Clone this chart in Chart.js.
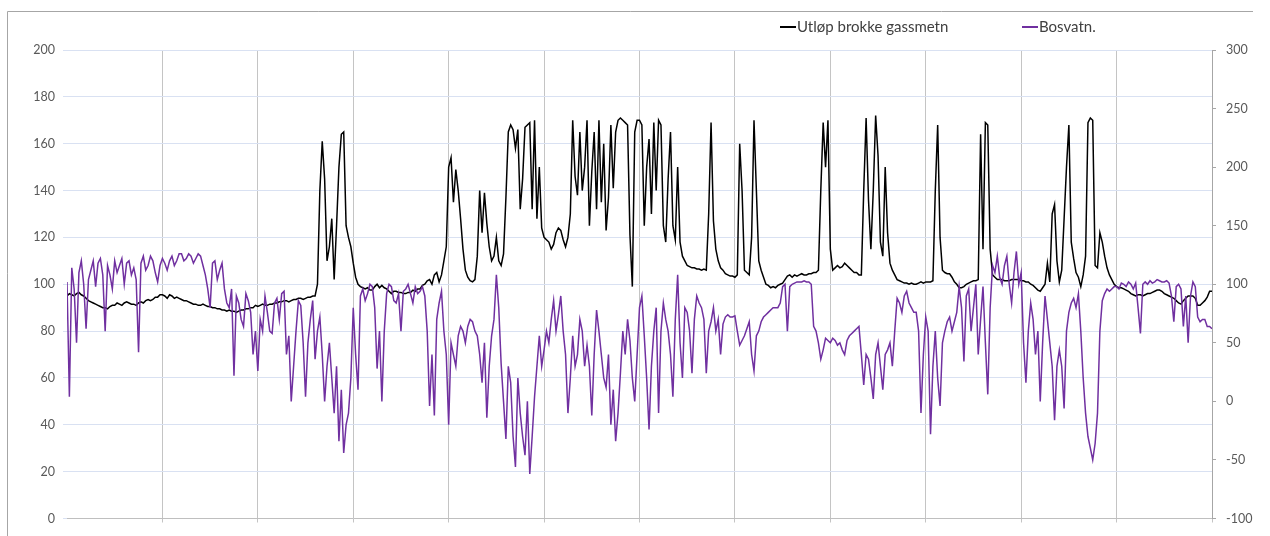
<!DOCTYPE html>
<html>
<head>
<meta charset="utf-8">
<script src="https://cdn.jsdelivr.net/npm/chart.js@4"></script>
<style>
  body { margin: 0; background: #fff; }
</style>
</head>
<body>
<canvas id="chart" width="1270" height="536"></canvas>
<script>
// series names (legend)
const seriesNames = ['Utløp brokke gassmetn', 'Bosvatn.'];

// left axis 0..200, right axis -100..300
const leftTicks = [0, 20, 40, 60, 80, 100, 120, 140, 160, 180, 200];
const rightTicks = [-100, -50, 0, 50, 100, 150, 200, 250, 300];

// samples between two vertical grid lines
const perGrid = 40;

// black series, left axis (481 samples, one row per grid interval)
const utlop = [
  95, 96, 95.5, 95, 96, 96.5, 95.5, 95, 94, 93, 92.5, 92, 91.5, 91, 90.5, 90, 90, 89.5, 90.5, 91, 91, 92, 91.5, 91, 92, 92.5, 92, 91.5, 91.5, 91, 92, 92.5, 92, 93, 93.5, 93, 93.5, 94.5, 94.5, 95.5, 95.5,
  95, 94, 95.5, 95, 94, 94.5, 94, 93.5, 93, 93, 92.5, 92, 91.5, 91.5, 91, 91, 91.5, 91, 90.5, 90.5, 90, 90, 89.5, 89.5, 89, 89, 88.5, 89, 88.5, 88.5, 88, 88.5, 89, 89, 89.5, 89.5, 90, 90, 91, 90.5,
  91, 91.5, 91, 91, 91.5, 91.5, 92, 92, 92.5, 92.5, 93, 93, 92.5, 93, 93.5, 93.5, 94, 94, 93.5, 94, 94.5, 94.5, 95, 95, 100, 140, 161, 145, 110, 116, 128, 102, 125, 150, 164, 165, 125, 120, 116, 109,
  103, 100, 99, 98.5, 98, 98.5, 97.5, 97.5, 99, 100, 98.5, 99.5, 98.5, 98, 97, 96, 97, 97, 96.5, 96.5, 96, 96, 96.5, 96.5, 97.5, 97, 98, 98, 99.5, 100, 101.5, 102, 100, 104, 105, 101, 104, 110, 116, 150,
  154, 135, 149, 140, 128, 115, 106, 103, 101.5, 101, 102, 112, 140, 122, 139, 126, 116, 110, 112, 120, 110, 108, 113, 137, 165, 168, 166, 158, 166, 132, 145, 167, 168, 169, 132, 170, 128, 150, 124, 120,
  119, 118, 115, 117, 122, 124, 123, 119, 116, 120, 130, 170, 146, 138, 165, 140, 150, 170, 125, 148, 165, 132, 170, 135, 160, 123, 137, 168, 141, 165, 170, 171, 170, 169, 168, 121, 99, 165, 170, 170,
  168, 125, 150, 162, 130, 169, 140, 170, 168, 125, 118, 145, 165, 125, 119, 150, 118, 112, 110, 108, 107.5, 107, 107, 106.5, 106.5, 106, 106.5, 106, 130, 169, 127, 115, 110, 107, 106, 104.5, 104, 103.5, 103.5, 103,
  104, 160, 140, 106, 105, 104, 120, 170, 140, 110, 106, 103, 100, 99.5, 98.5, 99, 98.5, 99.5, 100, 100.5, 102, 103.5, 104, 103, 104, 103.5, 104, 104.5, 104, 104, 104.5, 104.5, 105, 105, 106, 140, 169, 150, 170, 115,
  106, 107, 108, 107, 107.5, 109, 108, 107, 106, 105, 105, 104, 104, 140, 171, 136, 115, 140, 172, 155, 118, 112, 150, 122, 109, 106, 104, 102, 101.5, 101, 100.5, 100.5, 100, 100.5, 100, 100, 100.5, 101, 100.5, 101,
  101, 101, 101.5, 140, 168, 120, 106, 105, 104.5, 104.5, 103, 101, 100, 98.5, 98.5, 99, 100, 100.5, 101, 101.5, 101.5, 102, 164, 115, 169, 168, 115, 104, 103, 102, 102, 102, 101.5, 101.5, 101.5, 102, 102, 102, 102, 101.5,
  101.5, 101, 101, 100, 99.5, 98.5, 97.5, 97, 98.5, 100, 109, 101, 130, 134, 110, 101, 106, 128, 150, 168, 118, 111, 105, 103, 99, 104, 112, 169, 171, 170, 108, 107, 122, 118, 112, 107, 104, 102, 100, 99,
  98.5, 98.5, 98, 97.5, 97, 96, 95.5, 95, 95.5, 95.5, 95, 95.5, 96, 96, 96.5, 97, 97.5, 97.5, 97, 96, 95.5, 95, 94.5, 94, 93, 92, 91.5, 93, 94, 95, 95, 95, 94, 91, 91, 92, 93, 94.5, 97, 97
];

// purple series, right axis
const bosvatn = [
  102, 4, 114, 96, 50, 110, 120, 100, 62, 104, 112, 120, 98, 118, 122, 108, 60, 116, 108, 96, 120, 110, 116, 122, 100, 118, 120, 108, 114, 104, 42, 118, 124, 112, 116, 124, 120, 110, 102, 116, 122,
  118, 112, 120, 124, 116, 120, 126, 126, 120, 122, 126, 124, 118, 122, 126, 124, 116, 108, 96, 80, 118, 120, 104, 112, 118, 96, 84, 80, 96, 22, 90, 84, 70, 64, 92, 86, 76, 40, 60, 26,
  70, 60, 90, 76, 60, 58, 84, 88, 70, 92, 94, 40, 56, 0, 30, 60, 86, 82, 50, 4, 50, 70, 86, 36, 60, 72, 40, 0, 30, 50, 20, -10, 30, -34, 10, -44, -20, -10, 20, 80,
  40, 10, 90, 96, 86, 92, 100, 98, 80, 28, 60, 0, 60, 92, 100, 98, 86, 84, 92, 60, 94, 96, 100, 92, 84, 98, 92, 94, 98, 90, 60, -4, 40, -12, 70, 84, 94, 60, 40, -20,
  50, 40, 30, 56, 64, 60, 50, 64, 70, 68, 60, 56, 40, 16, 50, -14, 30, 56, 70, 108, 80, 32, 0, -32, 30, 16, -30, -56, 20, -10, -30, -46, 0, -62, -30, 4, 30, 56, 30, 44,
  60, 50, 70, 86, 60, 74, 90, 60, 40, -10, 20, 56, 30, 40, 70, 60, 30, 48, 30, -12, 40, 78, 60, 40, 20, 12, 40, -20, 10, -34, -10, 24, 60, 40, 70, 52, 20, 0, 40, 80,
  90, 56, 20, -24, 30, 60, 80, -10, 60, 84, 70, 60, 40, 4, 70, 108, 50, 20, 80, 76, 60, 24, 70, 90, 84, 80, 70, 24, 60, 68, 80, 60, 70, 40, 66, 72, 74, 72, 72, 73,
  60, 48, 52, 56, 62, 68, 40, 26, 56, 60, 68, 72, 74, 76, 78, 80, 80, 80, 84, 98, 100, 60, 98, 100, 101, 102, 102, 102, 103, 102, 102, 100, 64, 60, 50, 36, 44, 54, 52, 50,
  54, 52, 48, 50, 44, 40, 52, 56, 58, 60, 62, 64, 40, 14, 40, 36, 20, 2, 40, 50, 30, 10, 40, 44, 50, 30, 60, 88, 84, 76, 90, 94, 84, 80, 76, 76, 60, -10, 40, 72,
  60, -28, 30, 60, 20, -4, 50, 60, 68, 72, 60, 68, 76, 98, 80, 34, 90, 96, 60, 80, 100, 40, 70, 98, 50, 6, 80, 116, 110, 124, 106, 100, 116, 124, 100, 84, 110, 128, 100, 110,
  50, 16, 60, 84, 70, 40, 60, 0, 50, 90, 70, 50, 30, -16, 30, 44, 30, -6, 60, 76, 84, 88, 80, 92, 60, 20, -10, -30, -40, -50, -36, -10, 60, 86, 92, 96, 94, 96, 98, 98,
  96, 101, 100, 98, 102, 100, 96, 101, 80, 58, 100, 102, 100, 103, 101, 102, 104, 103, 102, 102, 103, 101, 90, 68, 98, 100, 96, 64, 90, 50, 90, 102, 98, 72, 68, 70, 70, 64, 64, 62
];

// sample index along the x axis
const samples = utlop.map((_, i) => i);

const FONT = 'Lato, "Open Sans", sans-serif';

const frameAndLegend = {
  id: 'frameAndLegend',
  beforeDraw(chart) {
    const c = chart.ctx;
    c.save();
    c.strokeStyle = '#a6a6a6';
    c.lineWidth = 1;
    c.beginPath();
    c.moveTo(7.5, 536);
    c.lineTo(7.5, 11.5);
    c.lineTo(1253, 11.5);
    c.stroke();
    c.restore();
  },
  afterDraw(chart) {
    const c = chart.ctx;
    const items = [
      { x: 780, color: '#000000', text: seriesNames[0] },
      { x: 1022, color: '#7030a0', text: seriesNames[1] }
    ];
    c.save();
    c.font = '15px ' + FONT;
    c.textBaseline = 'middle';
    c.fillStyle = '#404040';
    items.forEach(it => {
      c.strokeStyle = it.color;
      c.lineWidth = 2;
      c.beginPath();
      c.moveTo(it.x, 27);
      c.lineTo(it.x + 16, 27);
      c.stroke();
      c.fillText(it.text, it.x + 17, 27);
    });
    c.restore();
  }
};

new Chart(document.getElementById('chart'), {
  type: 'line',
  data: {
    datasets: [
      {
        label: seriesNames[0],
        data: samples.map((x, i) => ({ x: x, y: utlop[i] })),
        yAxisID: 'y',
        borderColor: '#000000',
        borderWidth: 1.5,
        pointRadius: 0,
        tension: 0,
        order: 2
      },
      {
        label: seriesNames[1],
        data: samples.map((x, i) => ({ x: x, y: bosvatn[i] })),
        yAxisID: 'y1',
        borderColor: '#7030a0',
        borderWidth: 1.5,
        pointRadius: 0,
        tension: 0,
        order: 1
      }
    ]
  },
  options: {
    responsive: false,
    animation: false,
    layout: { padding: { top: 50, left: 0, right: 0, bottom: 0 } },
    plugins: { legend: { display: false }, tooltip: { enabled: false } },
    scales: {
      x: {
        type: 'linear',
        min: 0,
        max: samples.length - 1,
        ticks: { display: false, stepSize: perGrid },
        grid: {
          color: ctx => (ctx.tick && ctx.tick.value === 0) ? 'rgba(0,0,0,0)' : '#c4c4c4',
          tickLength: 4,
          lineWidth: 1
        },
        border: { display: true, color: '#bfbfbf' },
        afterFit: s => { s.height = 16; }
      },
      y: {
        position: 'left',
        min: leftTicks[0],
        max: leftTicks[leftTicks.length - 1],
        afterBuildTicks: s => { s.ticks = leftTicks.map(v => ({ value: v })); },
        ticks: { color: '#595959', font: { family: FONT, size: 12.5 }, padding: 8 },
        grid: { color: '#d9e1f2', tickLength: 4 },
        border: { display: false },
        afterFit: s => { s.width = 67; }
      },
      y1: {
        position: 'right',
        min: rightTicks[0],
        max: rightTicks[rightTicks.length - 1],
        afterBuildTicks: s => { s.ticks = rightTicks.map(v => ({ value: v })); },
        ticks: { color: '#595959', font: { family: FONT, size: 12.5 }, padding: 10 },
        grid: { drawOnChartArea: false, color: '#a6a6a6', tickLength: 4 },
        border: { display: true, color: '#a6a6a6' },
        afterFit: s => { s.width = 58; }
      }
    }
  },
  plugins: [frameAndLegend]
});
</script>
</body>
</html>
